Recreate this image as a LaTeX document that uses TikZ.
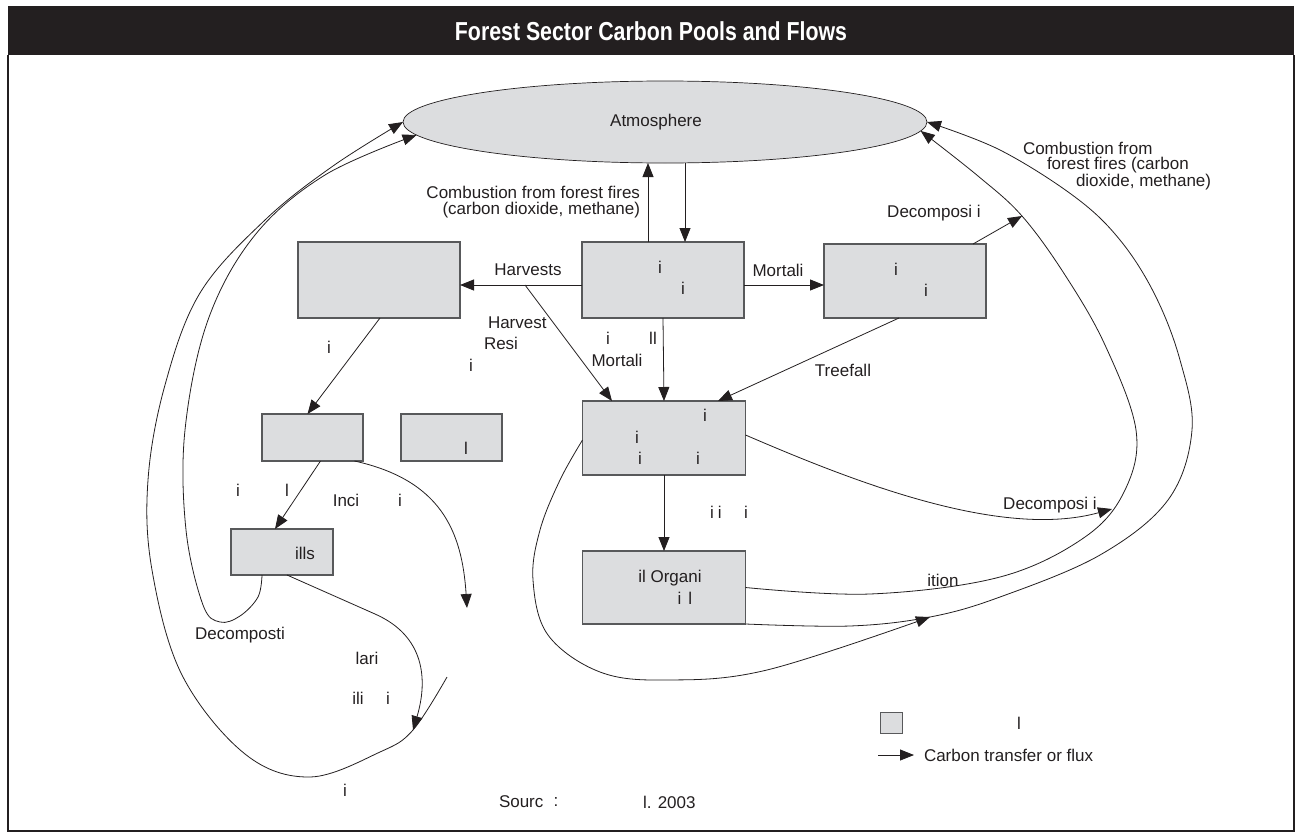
\documentclass[tikz,border=0pt]{standalone}
\usepackage{fontspec}
\setmainfont{Liberation Sans}
\usepackage{graphicx}
\usetikzlibrary{arrows.meta,calc,shapes.geometric}
\definecolor{ink}{HTML}{231F20}
\definecolor{poolfill}{HTML}{DCDDDF}
\definecolor{pooledge}{HTML}{58595B}
\begin{document}
\begin{tikzpicture}[x=1pt,y=-1pt,
  every node/.style={font=\fontsize{17}{19}\selectfont, text=ink, inner sep=0pt, outer sep=0pt},
  poolbox/.style={draw=pooledge, line width=1.3pt, fill=poolfill, rectangle},
  flow/.style={draw=ink, line width=0.8pt, -{Triangle[length=14pt,width=11pt]}},
  plain/.style={draw=ink, line width=0.8pt}]
\useasboundingbox (0,0) rectangle (1302,835);
% frame and title
\fill[ink] (8,6) rectangle (1294,55);
\draw[ink, line width=1.5pt] (8,55) -- (8,831) -- (1294,831) -- (1294,55);
\node[text=white, font=\bfseries\fontsize{26}{28}\selectfont] (title) at (651,31) {\scalebox{0.82}[1]{Forest Sector Carbon Pools and Flows}};
% pools
\node[draw=ink, line width=0.7pt, fill=poolfill, ellipse, minimum width=524pt, minimum height=82pt] (atm) at (665,122) {};
\node (atmt) at (656,122) {Atmosphere};
\node[poolbox, minimum width=162pt, minimum height=76pt] (live) at (663,280) {};
\node[poolbox, minimum width=162pt, minimum height=76pt] (lbox) at (379,280) {};
\node[poolbox, minimum width=162pt, minimum height=74pt] (rbox) at (905,281) {};
\node[poolbox, minimum width=163pt, minimum height=74pt] (dead) at (664,438) {};
\node[poolbox, minimum width=163pt, minimum height=73pt] (soil) at (664,587.5) {};
\node[poolbox, minimum width=101pt, minimum height=47pt] (box1) at (312.5,437.5) {};
\node[poolbox, minimum width=101pt, minimum height=47pt] (box2) at (451.5,437.5) {};
\node[poolbox, minimum width=102pt, minimum height=46pt] (lf) at (282,552) {};
% texts in pools
\node at (660,267) {i};
\node at (683,288) {i};
\node at (896,269) {i};
\node at (926,290) {i};
\node at (705,415) {i};
\node at (637,437) {i};
\node at (640,458) {i};
\node at (698,458) {i};
\node at (670,578) {il Organi};
\node at (685,598) {i\hspace{7pt}l};
\node at (466,448) {l};
\node at (305,553) {ills};
% coordinates
\coordinate (hr) at (525,285);
\coordinate (mo) at ([yshift=-5pt]live.east);
\coordinate (d1) at (1022,216);
\coordinate (pA) at (467,608);
\coordinate (pB) at (413,730);
\coordinate (pC) at (930,617);
\coordinate (pD) at (1112,509);
\coordinate (o1) at (447,677);
% straight flows
\draw[flow] ([xshift=-15pt]live.north) -- ([xshift=-17pt]atm.south);
\draw[flow] ([xshift=20pt]atm.south) -- ([xshift=22pt]live.north);
\draw[flow] ([yshift=-5pt]live.west) -- ([yshift=-5pt]live.west -| lbox.east);
\draw[flow] (mo) -- (mo -| rbox.west);
\draw[flow] (hr) -- ([xshift=-52pt]dead.north);
\draw[flow] (live.south) -- (dead.north);
\draw[flow] ([xshift=-6pt]rbox.south) -- ([xshift=54pt]dead.north);
\draw[flow] ([xshift=68pt]rbox.north) -- (d1);
\draw[flow] (dead.south) -- (soil.north);
\draw[flow] ([xshift=1pt]lbox.south) -- ([xshift=-5pt]box1.north);
\draw[flow] ([xshift=8pt]box1.south) -- ([xshift=-7pt]lf.north);
% curved flows
\draw[flow] ([xshift=42pt]box1.south) .. controls (440,480) and (462,530) .. (pA);
\draw[flow] ([xshift=5pt]lf.south) -- (375,614) .. controls (425,636) and (428,680) .. (pB);
\draw[flow] plot[smooth, tension=0.6] coordinates {([xshift=-20pt]lf.south) (258,597) (240,616) (220,622) (203,605) (186,530) (185,430) (208,320) (255,235) (325,175) (atm.183)};
\draw[flow] plot[smooth, tension=0.6] coordinates {(o1) (pB) (380,752) (310,777) (245,754) (182,675) (152,570) (148,480) (165,385) (200,293) (265,220) (333,166) (atm.west)};
\draw[flow] plot[smooth, tension=0.6] coordinates {([yshift=-2pt]dead.west) (560,480) (540,530) (533,580) (548,635) (600,672) (667,680) (767,670) (pC)};
\draw[flow] ([yshift=3pt]dead.east) .. controls (850,480) and (1000,540) .. (pD);
\draw[flow] plot[smooth, tension=0.6] coordinates {(soil.east) (870,594) (1000,577) (1085,537) (1125,490) (1136,430) (1105,345) (1065,275) (d1) (978,176) (atm.-2)};
\draw[flow] plot[smooth, tension=0.6] coordinates {(soil.south east) (850,626) (pC) (1000,597) (1100,555) (1168,500) (1192,430) (1180,360) (1155,295) (1120,240) (1075,197) (1000,150) (atm.east)};
% flow labels
\node[anchor=east] at (640,192) {Combustion from forest fires};
\node[anchor=east] at (640,210) {(carbon dioxide, methane)};
\node[anchor=west] at (1023,148) {Combustion from};
\node[anchor=west] at (1047,165) {forest fires (carbon};
\node[anchor=west] at (1076,182) {dioxide, methane)};
\node at (934,213) {Decomposi i};
\node at (528,270) {Harvests};
\node at (778,270) {Mortali};
\node[anchor=west] at (488,323) {Harvest};
\node[anchor=west] at (484,343) {Resi};
\node at (471,365) {i};
\node at (329,347) {i};
\node at (608,338) {i};
\node at (653,338) {ll};
\node at (617,360) {Mortali};
\node at (843,370) {Treefall};
\node at (716,512) {i\hspace{4pt}i};
\node at (746,512) {i};
\node at (1050,505) {Decomposi i};
\node at (943,580) {ition};
\node at (238,490) {i};
\node at (287,490) {l};
\node at (346,500) {Inci};
\node at (400,500) {i};
\node at (240,635) {Decomposti};
\node at (367,658) {lari};
\node at (358,698) {ili};
\node at (388,698) {i};
\node at (345,790) {i};
\node[anchor=west] at (499,802) {Sourc};
\node at (556,802) {:};
\node[anchor=west] at (643,802) {l. 2003};
% legend
\node[poolbox, line width=1pt, minimum width=22pt, minimum height=21pt] (key) at (891,722.5) {};
\node at (1019,723) {l};
\coordinate (ka) at (878,755);
\coordinate (kb) at (914,755);
\draw[flow] (ka) -- (kb);
\node[anchor=west] at (924,755) {Carbon transfer or flux};
\end{tikzpicture}
\end{document}
